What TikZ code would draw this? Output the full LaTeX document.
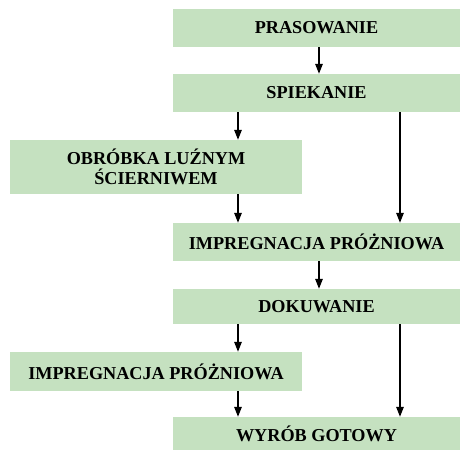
\documentclass[tikz,border=0pt]{standalone}
\usepackage{fontspec}
\setmainfont{Liberation Serif}
\usetikzlibrary{arrows.meta}
\definecolor{boxgreen}{RGB}{197,225,192}
\tikzset{
  stepbox/.style={fill=boxgreen, draw=none, inner sep=0pt, align=center,
    font=\bfseries\fontsize{18.2}{20.5}\selectfont},
  flow/.style={line width=1.3pt, -{Triangle[width=7.5pt,length=10pt]}}
}
\begin{document}
\begin{tikzpicture}[x=1pt,y=-1pt]
\useasboundingbox (0,0) rectangle (460,450);
% boxes
\node[stepbox, minimum width=287pt, minimum height=38pt] (pras) at (316.5,28) {PRASOWANIE};
\node[stepbox, minimum width=287pt, minimum height=38pt] (spiek) at (316.5,93) {SPIEKANIE};
\node[stepbox, minimum width=292pt, minimum height=54pt] (obr) at (156,167) {OBRÓBKA LUŹNYM\\ŚCIERNIWEM};
\node[stepbox, minimum width=287pt, minimum height=38pt] (imp1) at (316.5,242) {IMPREGNACJA PRÓŻNIOWA};
\node[stepbox, minimum width=287pt, minimum height=35pt] (dok) at (316.5,306.5) {DOKUWANIE};
\node[stepbox, minimum width=292pt, minimum height=39pt] (imp2) at (156,371.5) {IMPREGNACJA PRÓŻNIOWA};
\node[stepbox, minimum width=287pt, minimum height=33pt] (wyr) at (316.5,433.5) {WYRÓB GOTOWY};
% arrows
\draw[flow] (pras.south -| 319,0) -- (spiek.north -| 319,0);
\draw[flow] (spiek.south -| 238,0) -- (obr.north -| 238,0);
\draw[flow] (spiek.south -| 400,0) -- (imp1.north -| 400,0);
\draw[flow] (obr.south -| 238,0) -- (imp1.north -| 238,0);
\draw[flow] (imp1.south -| 319,0) -- (dok.north -| 319,0);
\draw[flow] (dok.south -| 238,0) -- (imp2.north -| 238,0);
\draw[flow] (dok.south -| 400,0) -- (wyr.north -| 400,0);
\draw[flow] (imp2.south -| 238,0) -- (wyr.north -| 238,0);
\end{tikzpicture}
\end{document}
